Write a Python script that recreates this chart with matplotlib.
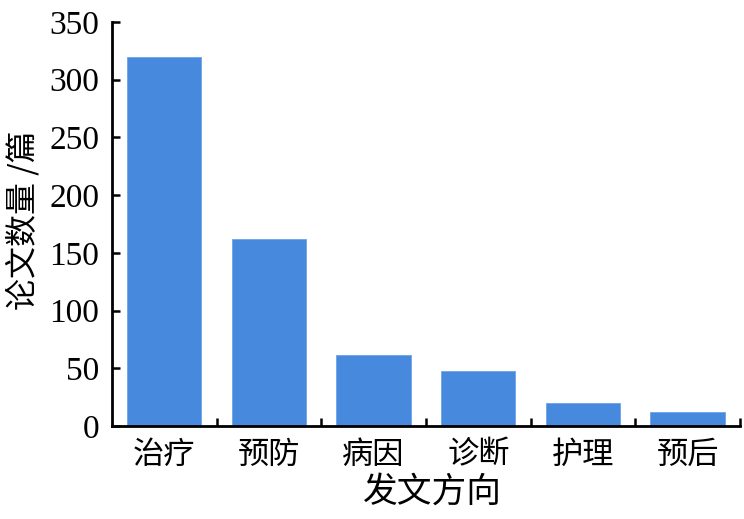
import matplotlib
matplotlib.use("Agg")
import matplotlib.pyplot as plt
import numpy as np

categories = ["治疗", "预防", "病因", "诊断", "护理", "预后"]
counts = [320, 162, 62, 48, 20, 12]
y_ticks = [0, 50, 100, 150, 200, 250, 300, 350]
x_label = "发文方向"
y_label = "论文数量 /篇"

cjk = ["Noto Sans CJK SC", "DejaVu Sans"]
num_font = ["Liberation Serif", "DejaVu Serif"]

fig = plt.figure(figsize=(7.44, 5.19), dpi=100)
ax = fig.add_axes([0.1505, 0.179, 0.8441, 0.7786])

x = np.arange(len(categories))
ax.bar(x, counts, width=0.71, color="#4689dd", edgecolor="#6aa4ea", linewidth=0.6, zorder=2)

ax.set_xlim(-0.5, 5.5)
ax.set_ylim(0, 350)

for s in ["top", "right"]:
    ax.spines[s].set_visible(False)
for s in ["left", "bottom"]:
    ax.spines[s].set_linewidth(2.0)
    ax.spines[s].set_color("black")

ax.set_yticks(y_ticks)
ax.set_yticklabels([str(v) for v in y_ticks], fontfamily=num_font, fontsize=24)
ax.tick_params(axis="y", direction="in", length=6, width=1.8, pad=9)

ax.set_xticks(x)
ax.set_xticklabels(categories, fontfamily=cjk, fontsize=22.5)
ax.tick_params(axis="x", which="major", length=0, pad=9)
ax.set_xticks(np.arange(0.5, 5.6, 1.0), minor=True)
ax.tick_params(axis="x", which="minor", direction="in", length=6, width=1.8)

ax.set_xlabel(x_label, fontfamily=cjk, fontsize=25)
ax.xaxis.set_label_coords(0.51, -0.12)
ax.set_ylabel(y_label, fontfamily=cjk, fontsize=23)
ax.yaxis.set_label_coords(-0.115, 0.51)

fig.savefig("out.png", dpi=100)
